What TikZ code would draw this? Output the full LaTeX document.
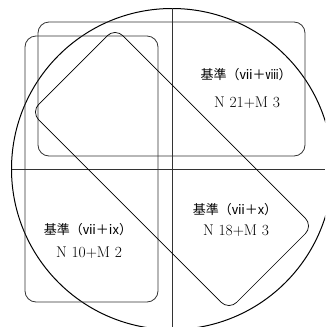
\documentclass[tikz,border=0pt]{standalone}
\usepackage{fontspec}
\newfontfamily\jpfont{Noto Sans CJK JP}

\begin{document}
\begin{tikzpicture}[x=1pt, y=-1pt,
  frame/.style={draw=black!80, line width=0.8pt, rounded corners=11pt,
    inner sep=0pt, outer sep=0pt},
  jtext/.style={font=\jpfont\fontsize{13}{15}\selectfont},
  ntext/.style={font=\fontsize{15.5}{17}\selectfont}]
  \useasboundingbox (0,0) rectangle (325,327);
  \clip (0,0) rectangle (325,327);
  % circle and axes
  \coordinate (o) at (172,169);
  \coordinate (n) at (172,8);
  \coordinate (s) at (172,327);
  \coordinate (w) at (12,169);
  \coordinate (e) at (325,169);
  \draw[line width=1pt] (o) circle[radius=160.5pt];
  \draw[black!80, line width=0.8pt] (n) -- (s);
  \draw[black!80, line width=0.8pt] (w) -- (e);
  % the three regions
  \node[frame, minimum width=267pt, minimum height=134pt] (r8) at (171.5,89) {};
  \node[frame, minimum width=133pt, minimum height=266pt] (r9) at (91.5,169) {};
  \node[frame, draw=black, line width=0.7pt, minimum width=280pt,
    minimum height=119pt, rotate=-45] (rx) at (o) {};
  % labels
  \node[jtext] (t8) at (246,75) {基準（ⅶ＋ⅷ）};
  \node[ntext] (n8) at (247,103) {N 21+M 3};
  \node[jtext] (tx) at (235,210) {基準（ⅶ＋x）};
  \node[ntext] (nx) at (236,231) {N 18+M 3};
  \node[jtext] (t9) at (88,230) {基準（ⅶ＋ix）};
  \node[ntext] (n9) at (89,253) {N 10+M 2};
\end{tikzpicture}
\end{document}
